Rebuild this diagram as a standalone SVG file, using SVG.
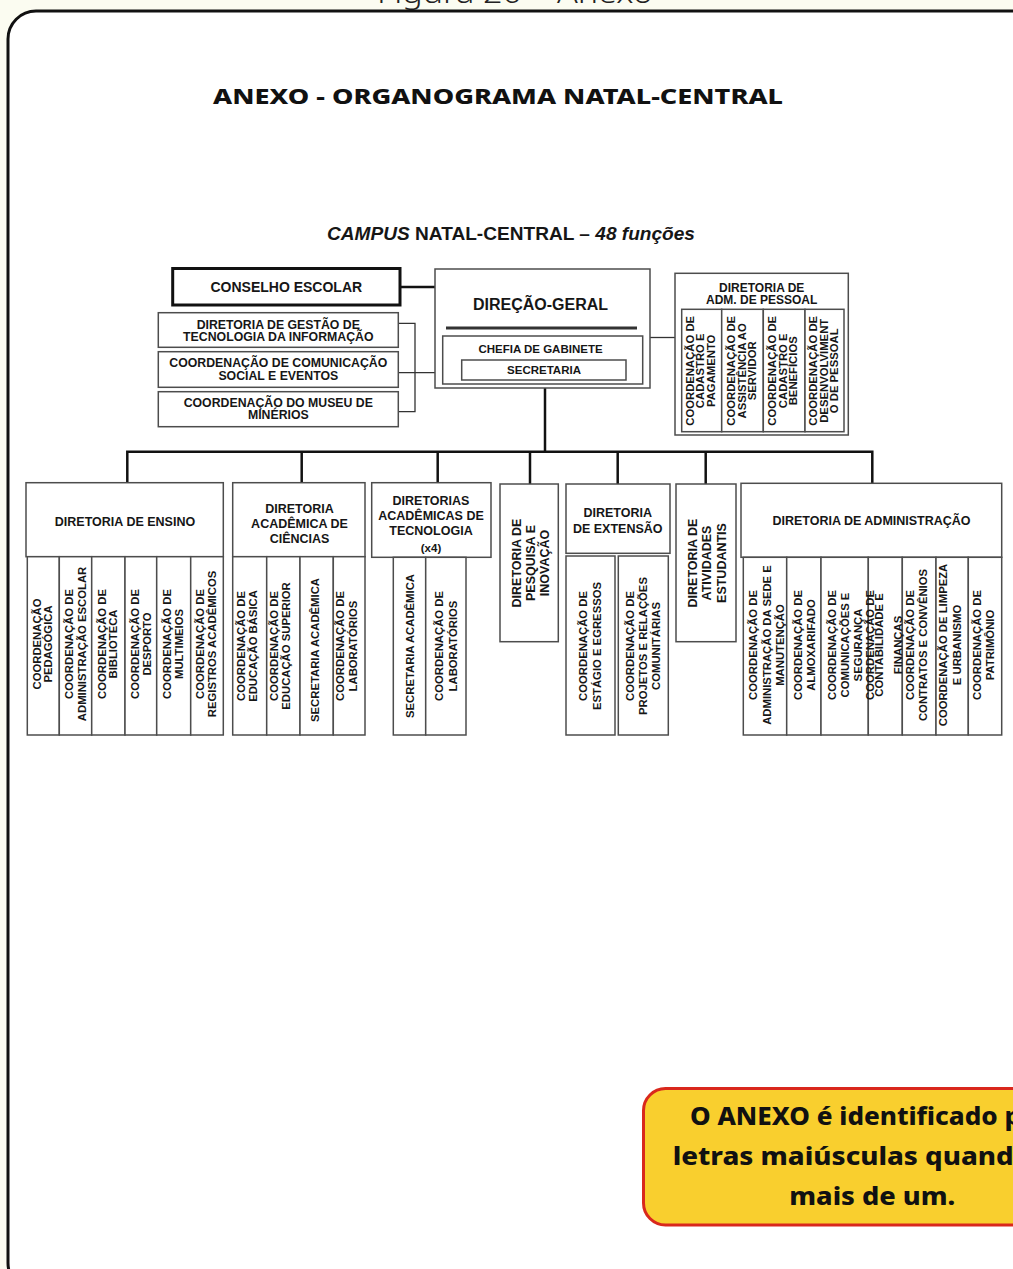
<svg xmlns="http://www.w3.org/2000/svg" width="1013" height="1269" viewBox="0 0 1013 1269">
<defs>
<style>
.box{fill:#fff;stroke:#4d4d4d;stroke-width:1.5}
.boldbox{fill:#fff;stroke:#111;stroke-width:3}
.t{font-family:"Liberation Sans",Arial,sans-serif;font-weight:bold;fill:#161616;text-anchor:middle}
.h{font-size:12.5px}
.c{font-size:11.3px}
.bus{fill:none;stroke:#111;stroke-width:2.5}
.thin{fill:none;stroke:#333;stroke-width:1.3}
.p{font-family:"Noto Sans","Open Sans",sans-serif;font-weight:800;fill:#111}
</style>
</defs>
<rect width="1013" height="1269" fill="#fbfcf1"/>
<text x="515" y="3" text-anchor="middle" font-family="Noto Sans, sans-serif" font-weight="300" font-size="30" fill="#222" textLength="276" lengthAdjust="spacingAndGlyphs">Figura 20 – Anexo</text>
<rect x="8" y="11" width="1034" height="1280" rx="28" fill="#fff" stroke="#111" stroke-width="3"/>

<text class="p" x="213" y="104" font-size="21.5" textLength="570" lengthAdjust="spacingAndGlyphs">ANEXO - ORGANOGRAMA NATAL-CENTRAL</text>

<text x="327" y="239.5" font-family="Liberation Sans, Arial, sans-serif" font-weight="bold" font-size="18.5" fill="#161616" textLength="368" lengthAdjust="spacingAndGlyphs"><tspan font-style="italic">CAMPUS</tspan> NATAL-CENTRAL – <tspan font-style="italic">48 funções</tspan></text>

<g id="connectors">
<line class="bus" x1="400" y1="287" x2="435" y2="287"/>
<polyline class="thin" points="398.3,323.3 415,323.3 415,411.7 398.3,411.7"/>
<line class="thin" x1="398.3" y1="372.7" x2="435" y2="372.7"/>
<line class="thin" x1="650" y1="337.5" x2="675" y2="337.5"/>
<line class="bus" x1="545" y1="388" x2="545" y2="451.7"/>
<path class="bus" d="M127.3,482.7 V451.7 H872.3 V483.3"/>
<line class="bus" x1="301.7" y1="451.7" x2="301.7" y2="482.7"/>
<line class="bus" x1="437.7" y1="451.7" x2="437.7" y2="482.7"/>
<line class="bus" x1="530" y1="451.7" x2="530" y2="484"/>
<line class="bus" x1="617.7" y1="451.7" x2="617.7" y2="484"/>
<line class="bus" x1="705.7" y1="451.7" x2="705.7" y2="484"/>
</g>

<g id="conselho-escolar">
<rect class="boldbox" x="172.7" y="268.5" width="227.3" height="36.5"/>
<text class="t" x="286.3" y="292" font-size="14">CONSELHO ESCOLAR</text>
</g>

<g id="direcao-geral">
<rect class="box" x="435" y="269" width="215" height="119"/>
<text class="t" x="540.5" y="310" font-size="16">DIREÇÃO-GERAL</text>
<line x1="446" y1="328" x2="637" y2="328" stroke="#333" stroke-width="3"/>
</g>
<g id="chefia-de-gabinete">
<rect class="box" x="442.7" y="336" width="200" height="48"/>
<text class="t" x="540.5" y="353" font-size="11.5">CHEFIA DE GABINETE</text>
</g>
<g id="secretaria">
<rect class="box" x="461.7" y="360" width="164.3" height="20"/>
<text class="t" x="544" y="374" font-size="11.5">SECRETARIA</text>
</g>

<g id="dgti">
<rect class="box" x="158.3" y="312.7" width="240" height="34.6"/>
<text class="t" x="278.3" y="329" font-size="12.3">DIRETORIA DE GESTÃO DE</text>
<text class="t" x="278.3" y="341" font-size="12.3">TECNOLOGIA DA INFORMAÇÃO</text>
</g>
<g id="ccse">
<rect class="box" x="158.3" y="351.7" width="240" height="35.6"/>
<text class="t" x="278.3" y="367.3" font-size="12.3">COORDENAÇÃO DE COMUNICAÇÃO</text>
<text class="t" x="278.3" y="380" font-size="12.3">SOCIAL E EVENTOS</text>
</g>
<g id="cmm">
<rect class="box" x="158.3" y="391.7" width="240" height="35"/>
<text class="t" x="278.3" y="406.5" font-size="12.3">COORDENAÇÃO DO MUSEU DE</text>
<text class="t" x="278.3" y="419" font-size="12.3">MINÉRIOS</text>
</g>

<g id="adm-pessoal">
<rect class="box" x="675" y="273.3" width="173.3" height="161.7"/>
<text class="t" x="761.7" y="291.5" font-size="12">DIRETORIA DE</text>
<text class="t" x="761.7" y="304" font-size="12">ADM. DE PESSOAL</text>
<rect class="box" x="681.7" y="309.3" width="40" height="122.4"/>
<rect class="box" x="721.7" y="309.3" width="41.6" height="122.4"/>
<rect class="box" x="763.3" y="309.3" width="41.7" height="122.4"/>
<rect class="box" x="805" y="309.3" width="39" height="122.4"/>
<text class="t c" transform="translate(700.4 370.8) rotate(-90)"><tspan x="0" y="-6.6">COORDENAÇÃO DE</tspan><tspan x="0" y="3.9">CADASTRO E</tspan><tspan x="0" y="14.4">PAGAMENTO</tspan></text>
<text class="t c" transform="translate(741.7 370.8) rotate(-90)"><tspan x="0" y="-6.6">COORDENAÇÃO DE</tspan><tspan x="0" y="3.9">ASSISTÊNCIA AO</tspan><tspan x="0" y="14.4">SERVIDOR</tspan></text>
<text class="t c" transform="translate(783 370.8) rotate(-90)"><tspan x="0" y="-6.6">COORDENAÇÃO DE</tspan><tspan x="0" y="3.9">CADASTRO E</tspan><tspan x="0" y="14.4">BENEFÍCIOS</tspan></text>
<text class="t c" transform="translate(823.7 370.8) rotate(-90)"><tspan x="0" y="-6.6">COORDENAÇÃO DE</tspan><tspan x="0" y="3.9">DESENVOLVIMENT</tspan><tspan x="0" y="14.4">O DE PESSOAL</tspan></text>
</g>

<g id="diretoria-ensino">
<rect class="box" x="26" y="482.7" width="197.3" height="74"/>
<text class="t h" x="125" y="526">DIRETORIA DE ENSINO</text>
<rect class="box" x="27.3" y="556.7" width="32" height="178.3"/>
<rect class="box" x="59.3" y="556.7" width="32.4" height="178.3"/>
<rect class="box" x="91.7" y="556.7" width="33.3" height="178.3"/>
<rect class="box" x="125" y="556.7" width="31.7" height="178.3"/>
<rect class="box" x="156.7" y="556.7" width="34" height="178.3"/>
<rect class="box" x="190.7" y="556.7" width="32.6" height="178.3"/>
<text class="t c" transform="translate(42.5 644) rotate(-90)"><tspan x="0" y="-2">COORDENAÇÃO</tspan><tspan x="0" y="9.8">PEDAGÓGICA</tspan></text>
<text class="t c" transform="translate(75.5 644) rotate(-90)"><tspan x="0" y="-2.3">COORDENAÇÃO DE</tspan><tspan x="0" y="10">ADMINISTRAÇÃO ESCOLAR</tspan></text>
<text class="t c" transform="translate(107.5 644) rotate(-90)"><tspan x="0" y="-2">COORDENAÇÃO DE</tspan><tspan x="0" y="9.8">BIBLIOTECA</tspan></text>
<text class="t c" transform="translate(140.8 644) rotate(-90)"><tspan x="0" y="-2">COORDENAÇÃO DE</tspan><tspan x="0" y="9.8">DESPORTO</tspan></text>
<text class="t c" transform="translate(173 644) rotate(-90)"><tspan x="0" y="-2.3">COORDENAÇÃO DE</tspan><tspan x="0" y="10">MULTIMEIOS</tspan></text>
<text class="t c" transform="translate(206.2 644) rotate(-90)"><tspan x="0" y="-2.3">COORDENAÇÃO DE</tspan><tspan x="0" y="10">REGISTROS ACADÊMICOS</tspan></text>
</g>

<g id="diretoria-academica-ciencias">
<rect class="box" x="232.7" y="482.7" width="132.3" height="74"/>
<text class="t h" x="299.5" y="512.8">DIRETORIA</text>
<text class="t h" x="299.5" y="527.8">ACADÊMICA DE</text>
<text class="t h" x="299.5" y="542.8">CIÊNCIAS</text>
<rect class="box" x="232.7" y="556.7" width="34" height="178.3"/>
<rect class="box" x="266.7" y="556.7" width="33.3" height="178.3"/>
<rect class="box" x="300" y="556.7" width="33.3" height="178.3"/>
<rect class="box" x="333.3" y="556.7" width="31.7" height="178.3"/>
<text class="t c" transform="translate(247 646) rotate(-90)"><tspan x="0" y="-2.5">COORDENAÇÃO DE</tspan><tspan x="0" y="10.3">EDUCAÇÃO BÁSICA</tspan></text>
<text class="t c" transform="translate(280 646) rotate(-90)"><tspan x="0" y="-2.5">COORDENAÇÃO DE</tspan><tspan x="0" y="10.3">EDUCAÇÃO SUPERIOR</tspan></text>
<text class="t c" transform="translate(315.5 650) rotate(-90)"><tspan x="0" y="3.9">SECRETARIA ACADÊMICA</tspan></text>
<text class="t c" transform="translate(346.5 646) rotate(-90)"><tspan x="0" y="-2.5">COORDENAÇÃO DE</tspan><tspan x="0" y="10.3">LABORATÓRIOS</tspan></text>
</g>

<g id="diretorias-academicas-tecnologia">
<rect class="box" x="371.7" y="482.7" width="119.3" height="74.6"/>
<text class="t h" x="431" y="504.5">DIRETORIAS</text>
<text class="t h" x="431" y="519.5">ACADÊMICAS DE</text>
<text class="t h" x="431" y="534.5">TECNOLOGIA</text>
<text class="t" x="431" y="551.5" font-size="11.5">(x4)</text>
<rect class="box" x="393.3" y="557.3" width="32.4" height="177.7"/>
<rect class="box" x="425.7" y="557.3" width="40.3" height="177.7"/>
<text class="t c" transform="translate(410 646) rotate(-90)"><tspan x="0" y="3.9">SECRETARIA ACADÊMICA</tspan></text>
<text class="t c" transform="translate(445.8 646) rotate(-90)"><tspan x="0" y="-3">COORDENAÇÃO DE</tspan><tspan x="0" y="11">LABORATÓRIOS</tspan></text>
</g>

<g id="diretoria-pesquisa-inovacao">
<rect class="box" x="500" y="484" width="58.3" height="157.7"/>
<text class="t h" transform="translate(530 563) rotate(-90)"><tspan x="0" y="-9.5">DIRETORIA DE</tspan><tspan x="0" y="4.5">PESQUISA E</tspan><tspan x="0" y="18.5">INOVAÇÃO</tspan></text>
</g>

<g id="diretoria-extensao">
<rect class="box" x="566" y="484" width="104" height="69.3"/>
<text class="t h" x="617.7" y="517.2">DIRETORIA</text>
<text class="t h" x="617.7" y="532.8">DE EXTENSÃO</text>
<rect class="box" x="566" y="556" width="49" height="179"/>
<rect class="box" x="618.3" y="556" width="50" height="179"/>
<text class="t c" transform="translate(590 646) rotate(-90)"><tspan x="0" y="-2.8">COORDENAÇÃO DE</tspan><tspan x="0" y="10.6">ESTÁGIO E EGRESSOS</tspan></text>
<text class="t c" transform="translate(643.3 646) rotate(-90)"><tspan x="0" y="-9.4">COORDENAÇÃO DE</tspan><tspan x="0" y="3.9">PROJETOS E RELAÇÕES</tspan><tspan x="0" y="17.2">COMUNITÁRIAS</tspan></text>
</g>

<g id="diretoria-atividades-estudantis">
<rect class="box" x="676" y="484" width="60" height="157.7"/>
<text class="t h" transform="translate(706.7 563) rotate(-90)"><tspan x="0" y="-10">DIRETORIA DE</tspan><tspan x="0" y="4.5">ATIVIDADES</tspan><tspan x="0" y="19">ESTUDANTIS</tspan></text>
</g>

<g id="diretoria-administracao">
<rect class="box" x="741" y="483.3" width="260.7" height="74"/>
<text class="t h" x="871.5" y="524.5">DIRETORIA DE ADMINISTRAÇÃO</text>
<rect class="box" x="743.3" y="557.3" width="43.4" height="177.7"/>
<rect class="box" x="786.7" y="557.3" width="34.3" height="177.7"/>
<rect class="box" x="821" y="557.3" width="47.3" height="177.7"/>
<rect class="box" x="868.3" y="557.3" width="34" height="177.7"/>
<rect class="box" x="902.3" y="557.3" width="33.7" height="177.7"/>
<rect class="box" x="936" y="557.3" width="32.3" height="177.7"/>
<rect class="box" x="968.3" y="557.3" width="33.4" height="177.7"/>
<text class="t c" transform="translate(766.7 645) rotate(-90)"><tspan x="0" y="-9.4">COORDENAÇÃO DE</tspan><tspan x="0" y="3.9">ADMINISTRAÇÃO DA SEDE E</tspan><tspan x="0" y="17.2">MANUTENÇÃO</tspan></text>
<text class="t c" transform="translate(804.7 645) rotate(-90)"><tspan x="0" y="-2.4">COORDENAÇÃO DE</tspan><tspan x="0" y="10.2">ALMOXARIFADO</tspan></text>
<text class="t c" transform="translate(845.3 645) rotate(-90)"><tspan x="0" y="-9.4">COORDENAÇÃO DE</tspan><tspan x="0" y="3.9">COMUNICAÇÕES E</tspan><tspan x="0" y="17.2">SEGURANÇA</tspan></text>
<text class="t c" transform="translate(885 645) rotate(-90)"><tspan x="0" y="-11.1">COORDENAÇÃO DE</tspan><tspan x="0" y="-1.6">CONTABILIDADE E</tspan><tspan x="0" y="17.2">FINANÇAS</tspan></text>
<text class="t c" transform="translate(916.7 645) rotate(-90)"><tspan x="0" y="-2.8">COORDENAÇÃO DE</tspan><tspan x="0" y="10.6">CONTRATOS E CONVÊNIOS</tspan></text>
<text class="t c" transform="translate(950 645) rotate(-90)"><tspan x="0" y="-2.8">COORDENAÇÃO DE LIMPEZA</tspan><tspan x="0" y="10.6">E URBANISMO</tspan></text>
<text class="t c" transform="translate(983.3 645) rotate(-90)"><tspan x="0" y="-2.8">COORDENAÇÃO DE</tspan><tspan x="0" y="10.6">PATRIMÔNIO</tspan></text>
</g>

<g id="callout">
<rect x="643.5" y="1088.5" width="420" height="136.5" rx="22" fill="#f9cf2e" stroke="#d9281c" stroke-width="3"/>
<text class="p" x="690" y="1125" font-size="24" textLength="331" lengthAdjust="spacingAndGlyphs">O ANEXO é identificado p</text>
<text class="p" x="672.7" y="1165" font-size="24" textLength="341" lengthAdjust="spacingAndGlyphs">letras maiúsculas quand</text>
<text class="p" x="789.3" y="1205" font-size="24" textLength="166" lengthAdjust="spacingAndGlyphs">mais de um.</text>
</g>
</svg>
